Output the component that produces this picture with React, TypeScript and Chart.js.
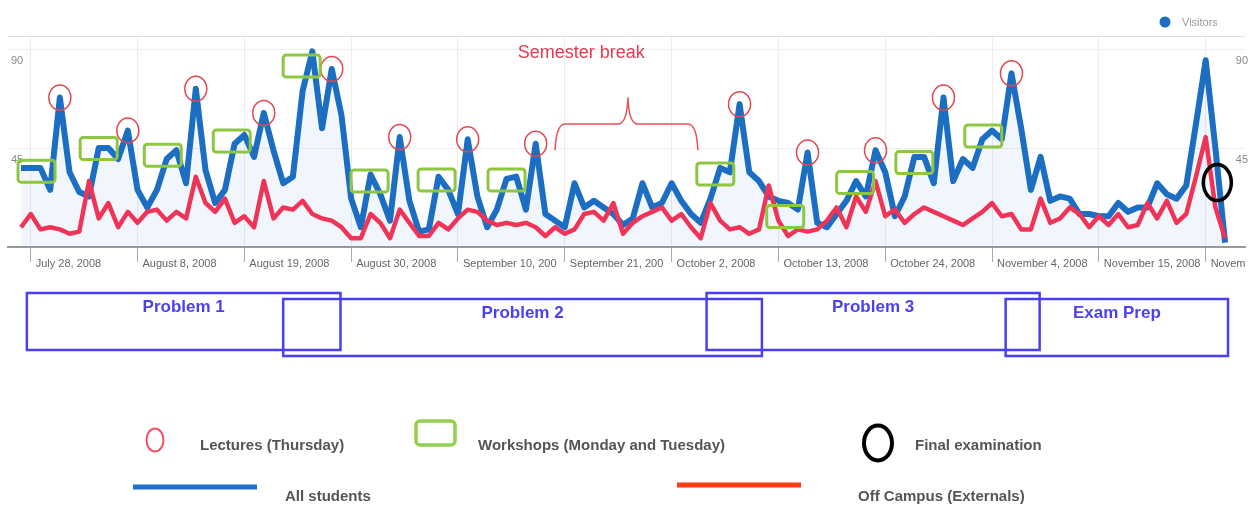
import React, { useEffect, useRef } from 'react';
import { Chart, registerables } from 'chart.js';

Chart.register(...registerables);

const W = 1253;
const H = 506;

// Daily visitors, 27 Jul 2008 (day 0) to 28 Nov 2008 (day 124)
const allStudents = [
  36, 36, 36, 26, 68, 34, 25, 23, 45, 45,
  40, 53, 26, 18, 26, 40, 44, 29, 72, 35,
  20, 26, 47, 51, 41, 61, 44, 29, 32, 71,
  89, 54, 81, 60, 22, 9, 33, 24, 12, 50,
  21, 7, 8, 32, 26, 15, 49, 23, 9, 17,
  31, 32, 17, 47, 15, 12, 9, 29, 18, 21,
  18, 15, 10, 13, 29, 18, 20, 29, 21, 15,
  11, 22, 36, 34, 65, 34, 30, 23, 21, 20,
  17, 43, 11, 9, 15, 21, 30, 23, 44, 34,
  14, 23, 41, 41, 29, 68, 30, 40, 36, 49,
  53, 49, 79, 54, 26, 41, 21, 23, 22, 15,
  15, 14, 14, 20, 16, 18, 18, 29, 24, 22,
  28, 56, 85, 45, 2,
];

const offCampus = [
  9, 15, 8, 9, 8, 6, 7, 30, 13, 20,
  9, 16, 11, 16, 17, 12, 16, 13, 32, 20,
  16, 22, 11, 14, 9, 30, 13, 18, 17, 21,
  15, 13, 12, 9, 4, 4, 15, 11, 4, 17,
  11, 5, 5, 11, 8, 13, 17, 16, 12, 10,
  11, 10, 11, 9, 5, 9, 6, 8, 15, 16,
  12, 20, 6, 11, 14, 16, 18, 12, 15, 9,
  4, 20, 12, 8, 9, 6, 8, 28, 12, 5,
  8, 7, 8, 12, 18, 9, 23, 16, 30, 14,
  17, 11, 15, 18, 16, 14, 12, 10, 13, 16,
  20, 14, 15, 8, 8, 22, 11, 13, 18, 15,
  9, 14, 10, 15, 9, 10, 20, 13, 21, 11,
  15, 32, 50, 18, 4,
];

const seriesLabels = ['All students', 'Off Campus (Externals)'];

const tickDays = [1, 12, 23, 34, 45, 56, 67, 78, 89, 100, 111, 122];
const tickLabels = [
  'July 28, 2008', 'August 8, 2008', 'August 19, 2008', 'August 30, 2008',
  'September 10, 200', 'September 21, 200', 'October 2, 2008', 'October 13, 2008',
  'October 24, 2008', 'November 4, 2008', 'November 15, 2008', 'Novem',
];
const yTicks = [0, 45, 90, 96];
const yLabelled = [45, 90];

// Annotation anchors (day index / visitor level)
const lectureDays = [4, 11, 18, 25, 32, 39, 46, 53, 74, 81, 88, 95, 102];
const workshopDays = [1.6, 8.0, 14.6, 21.7, 28.9, 35.9, 42.8, 50.0, 71.5, 78.7, 85.9, 92.0, 99.1];
const workshopLevels = [34.5, 44.8, 41.8, 48.2, 82.3, 30, 30.5, 30.5, 33.2, 13.9, 29.3, 38.4, 50.5];
const examDay = 123.2;
const examLevel = 29.3;
const breakStart = 55;
const breakEnd = 69.7;
const breakMid = 62.5;
const breakLevels = [44, 56, 68]; // brace ends, bar, tip
const breakTextDay = 57.7;
const breakTextLevel = 88.2;

const phaseLabels = ['Problem 1', 'Problem 2', 'Problem 3', 'Exam Prep'];
const phaseStart = [0.6, 27.0, 70.6, 101.4];
const phaseEnd = [32.9, 76.3, 104.9, 124.3];

const BLUE = '#1b6ec2';
const RED = '#ef3457';
const FONT = "'Liberation Sans', Arial, sans-serif";

const annotations = {
  id: 'annotations',
  afterDatasetsDraw(chart: any) {
    const { ctx } = chart;
    const x = chart.scales.x;
    const y = chart.scales.y;
    ctx.save();

    // lectures
    ctx.strokeStyle = '#e2474d';
    ctx.lineWidth = 1.5;
    lectureDays.forEach((d) => {
      const px = x.getPixelForValue(d);
      const py = y.getPixelForValue(allStudents[d]);
      ctx.beginPath();
      ctx.ellipse(px, py, 11, 12.5, 0, 0, Math.PI * 2);
      ctx.stroke();
    });

    // workshops
    ctx.strokeStyle = '#8dc641';
    ctx.lineWidth = 3;
    workshopDays.forEach((d, i) => {
      const px = x.getPixelForValue(d);
      const py = y.getPixelForValue(workshopLevels[i]);
      ctx.beginPath();
      ctx.roundRect(px - 18.5, py - 11, 37, 22, 3);
      ctx.stroke();
    });

    // final exam
    ctx.strokeStyle = '#000';
    ctx.lineWidth = 3.5;
    ctx.beginPath();
    ctx.ellipse(x.getPixelForValue(examDay), y.getPixelForValue(examLevel), 14, 18, 0, 0, Math.PI * 2);
    ctx.stroke();

    // semester break brace
    const L = x.getPixelForValue(breakStart);
    const R = x.getPixelForValue(breakEnd);
    const T = x.getPixelForValue(breakMid);
    const yEnd = y.getPixelForValue(breakLevels[0]);
    const yBar = y.getPixelForValue(breakLevels[1]);
    const yTip = y.getPixelForValue(breakLevels[2]);
    ctx.strokeStyle = '#e8505a';
    ctx.lineWidth = 1.5;
    ctx.beginPath();
    ctx.moveTo(L, yEnd);
    ctx.quadraticCurveTo(L + 1, yBar, L + 10, yBar);
    ctx.lineTo(T - 9, yBar);
    ctx.quadraticCurveTo(T - 1, yBar - 1, T, yTip);
    ctx.quadraticCurveTo(T + 1, yBar - 1, T + 9, yBar);
    ctx.lineTo(R - 10, yBar);
    ctx.quadraticCurveTo(R - 1, yBar, R, yEnd);
    ctx.stroke();

    ctx.fillStyle = '#e8394f';
    ctx.font = `18px ${FONT}`;
    ctx.textAlign = 'center';
    ctx.textBaseline = 'middle';
    ctx.fillText('Semester break', x.getPixelForValue(breakTextDay), y.getPixelForValue(breakTextLevel));
    ctx.restore();
  },
  afterDraw(chart: any) {
    const { ctx } = chart;
    const x = chart.scales.x;
    ctx.save();

    // Visitors legend
    ctx.fillStyle = BLUE;
    ctx.beginPath();
    ctx.arc(1165, 22, 5.5, 0, Math.PI * 2);
    ctx.fill();
    ctx.fillStyle = '#9a9a9a';
    ctx.font = `11px ${FONT}`;
    ctx.textAlign = 'left';
    ctx.textBaseline = 'middle';
    ctx.fillText('Visitors', 1182, 23);

    // phase boxes
    ctx.strokeStyle = '#4b3ff2';
    ctx.lineWidth = 2.5;
    ctx.fillStyle = '#4b3ff2';
    ctx.font = `bold 17px ${FONT}`;
    ctx.textAlign = 'center';
    phaseLabels.forEach((lab, i) => {
      const x0 = x.getPixelForValue(phaseStart[i]);
      const x1 = x.getPixelForValue(phaseEnd[i]);
      const top = i % 2 === 0 ? 293 : 299;
      ctx.strokeRect(x0, top, x1 - x0, 57);
      ctx.fillText(lab, (x0 + x1) / 2, top + 14);
    });

    // bottom legend
    ctx.textAlign = 'left';
    ctx.textBaseline = 'middle';
    ctx.font = `bold 15px ${FONT}`;

    ctx.strokeStyle = '#f4525e';
    ctx.lineWidth = 2;
    ctx.beginPath();
    ctx.ellipse(155, 440, 8.5, 11.5, 0, 0, Math.PI * 2);
    ctx.stroke();
    ctx.fillStyle = '#555';
    ctx.fillText('Lectures (Thursday)', 200, 446);

    ctx.strokeStyle = '#92d050';
    ctx.lineWidth = 3.5;
    ctx.beginPath();
    ctx.roundRect(416, 421, 39, 24, 4);
    ctx.stroke();
    ctx.fillText('Workshops (Monday and Tuesday)', 478, 446);

    ctx.strokeStyle = '#000';
    ctx.lineWidth = 4;
    ctx.beginPath();
    ctx.ellipse(878, 443, 14, 17.5, 0, 0, Math.PI * 2);
    ctx.stroke();
    ctx.fillText('Final examination', 915, 446);

    ctx.strokeStyle = '#1e6fcc';
    ctx.lineWidth = 5;
    ctx.beginPath();
    ctx.moveTo(133, 487);
    ctx.lineTo(257, 487);
    ctx.stroke();
    ctx.fillText(seriesLabels[0], 285, 497);

    ctx.strokeStyle = '#ff3b14';
    ctx.beginPath();
    ctx.moveTo(677, 485);
    ctx.lineTo(801, 485);
    ctx.stroke();
    ctx.fillText(seriesLabels[1], 858, 497);

    ctx.restore();
  },
};

export default function App() {
  const ref = useRef<HTMLCanvasElement>(null);

  useEffect(() => {
    const chart = new Chart(ref.current as HTMLCanvasElement, {
      type: 'line',
      data: {
        datasets: [
          {
            label: seriesLabels[1],
            data: offCampus.map((v, i) => ({ x: i, y: v })),
            borderColor: RED,
            borderWidth: 4.5,
            pointRadius: 0,
            fill: false,
            tension: 0,
            order: 0,
            borderJoinStyle: 'round',
          },
          {
            label: seriesLabels[0],
            data: allStudents.map((v, i) => ({ x: i, y: v })),
            borderColor: BLUE,
            borderWidth: 6,
            pointRadius: 0,
            fill: 'origin',
            backgroundColor: 'rgba(20,110,200,0.06)',
            tension: 0,
            order: 1,
            borderJoinStyle: 'round',
          },
        ],
      },
      options: {
        animation: false,
        responsive: false,
        devicePixelRatio: 1,
        events: [],
        layout: { padding: { left: 8, right: 8, top: 36, bottom: 237 } },
        plugins: { legend: { display: false }, tooltip: { enabled: false } },
        scales: {
          x: {
            type: 'linear',
            min: -1.34,
            max: 126.05,
            afterBuildTicks: (s: any) => {
              s.ticks = tickDays.map((v) => ({ value: v }));
            },
            afterFit: (s: any) => {
              s.height = 22;
            },
            ticks: {
              autoSkip: false,
              maxRotation: 0,
              align: 'start',
              labelOffset: 5,
              padding: -5,
              color: '#666',
              font: { size: 11, family: FONT },
              callback: (_v: any, i: number) => tickLabels[i],
            },
            grid: { color: '#ececec', tickColor: '#aaa', tickLength: 15, lineWidth: 1 },
            border: { color: '#9a9a9a', width: 2 },
          },
          y: {
            position: 'left',
            min: 0,
            max: 96,
            afterBuildTicks: (s: any) => {
              s.ticks = yTicks.map((v) => ({ value: v }));
            },
            afterFit: (s: any) => {
              s.width = 0;
            },
            ticks: {
              mirror: true,
              padding: 3,
              labelOffset: 12,
              color: '#888',
              font: { size: 11, family: FONT },
              callback: (v: any) => (yLabelled.includes(v) ? String(v) : ''),
            },
            grid: {
              drawTicks: false,
              color: (c: any) => (c.tick && c.tick.value === 96 ? '#e0e0e0' : '#efefef'),
            },
            border: { display: false },
          },
          y2: {
            position: 'right',
            min: 0,
            max: 96,
            afterBuildTicks: (s: any) => {
              s.ticks = yTicks.map((v) => ({ value: v }));
            },
            afterFit: (s: any) => {
              s.width = 0;
            },
            ticks: {
              mirror: true,
              padding: 3,
              labelOffset: 12,
              color: '#888',
              font: { size: 11, family: FONT },
              callback: (v: any) => (yLabelled.includes(v) ? String(v) : ''),
            },
            grid: { display: false, drawTicks: false },
            border: { display: false },
          },
        },
      } as any,
      plugins: [annotations],
    } as any);
    return () => chart.destroy();
  }, []);

  return (
    <div style={{ position: 'absolute', left: 0, top: 0, width: W, height: H, background: '#fff' }}>
      <canvas ref={ref} width={W} height={H} style={{ display: 'block', width: W, height: H }} />
    </div>
  );
}
